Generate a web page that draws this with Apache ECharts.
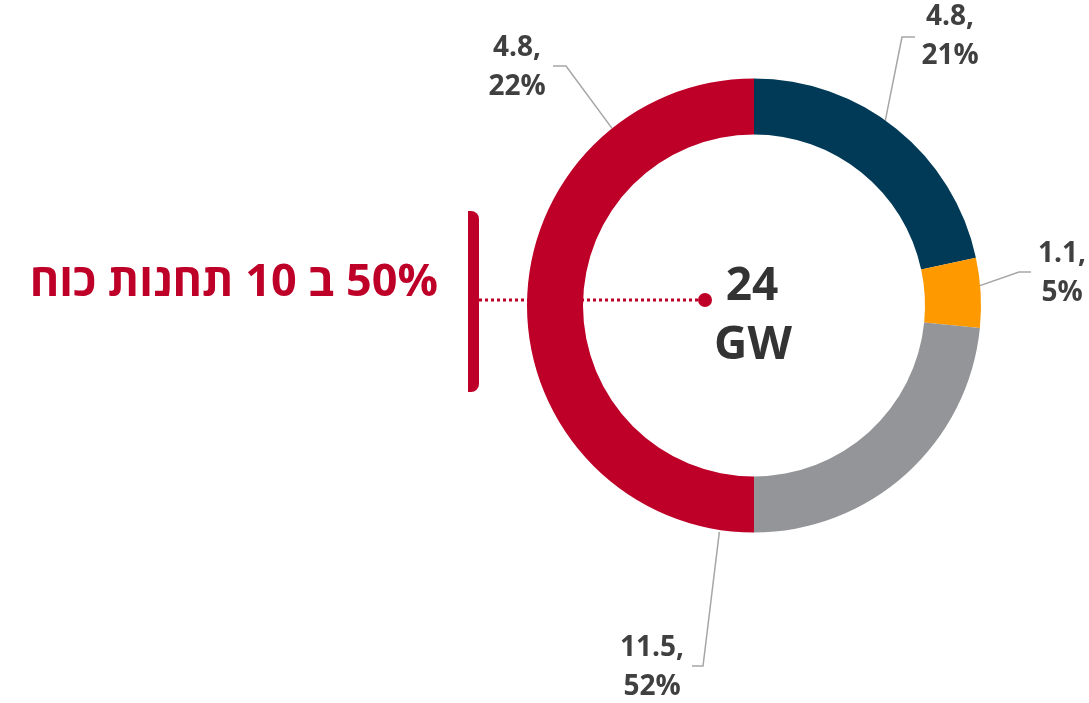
<!DOCTYPE html>
<html lang="he">
<head>
  <meta charset="UTF-8">
  <title>Capacity donut</title>
  <style>html,body{margin:0;padding:0;background:#fff;}</style>
</head>
<body>
  <div id="main" style="width:1089px;height:703px;"></div>
  <script src="https://cdn.jsdelivr.net/npm/echarts@6.0.0/dist/echarts.min.js"></script>
  <script type="text/javascript">
    // slices as drawn, clockwise from 12 o'clock
    var sliceNames = ['1', '2', '3', '4'];
    var sliceValues = [4.8, 1.1, 5.2, 11.1];
    var sliceLabels = ['4.8,\n21%', '1.1,\n5%', '4.8,\n22%', '11.5,\n52%'];
    var totalText = ['24', 'GW'];
    var sideText = '50% ב 10 תחנות כוח';

    var colors = ['#003A57', '#FF9900', '#939598', '#BE0029'];
    var red = '#BE0029';
    var cx = 754, cy = 305.5;

    // where each label sits (anchor = [angle from top, radius])
    var spots = [
      { anchor: [39, 199], bend: [902, 37], end: [915, 37], text: [950, 37] },
      { anchor: [87, 199], bend: [1019, 272], end: [1031, 272], text: [1062, 274] },
      { anchor: [321.3, 227], bend: [566, 66], end: [553, 66], text: [517, 68] },
      { anchor: [188.7, 229], bend: [703, 666], end: [692, 666], text: [652, 668] }
    ];

    var myChart = echarts.init(document.getElementById('main'));

    var pieData = sliceValues.map(function (v, i) {
      return { name: sliceNames[i], value: v, itemStyle: { color: colors[i] } };
    });

    var option = {
      backgroundColor: '#ffffff',
      animation: false,
      series: [{
        type: 'pie',
        center: [cx, cy],
        radius: [171, 227],
        startAngle: 90,
        clockwise: true,
        avoidLabelOverlap: false,
        silent: true,
        emphasis: { scale: false },
        data: pieData,
        label: {
          show: true,
          position: 'outside',
          formatter: function (p) { return sliceLabels[p.dataIndex]; },
          fontFamily: 'Open Sans',
          fontWeight: 'bold',
          fontSize: 28,
          lineHeight: 39,
          color: '#404040'
        },
        labelLine: {
          show: true,
          smooth: false,
          lineStyle: { color: '#A6A6A6', width: 1.5 }
        },
        labelLayout: function (params) {
          var s = spots[params.dataIndex];
          var a = s.anchor[0] * Math.PI / 180;
          var ax = cx + s.anchor[1] * Math.sin(a);
          var ay = cy - s.anchor[1] * Math.cos(a);
          return {
            x: s.text[0],
            y: s.text[1],
            align: 'center',
            verticalAlign: 'middle',
            labelLinePoints: [[ax, ay], s.bend, s.end]
          };
        }
      }],
      graphic: [
        {
          type: 'rect', z: 1,
          shape: { x: 468, y: 211, width: 11, height: 181, r: [0, 8, 8, 0] },
          style: { fill: red }
        },
        {
          type: 'line', z: 1,
          shape: { x1: 479, y1: 300, x2: 700, y2: 300 },
          style: { stroke: red, lineWidth: 3, lineDash: [3, 3] }
        },
        {
          type: 'circle', z: 10,
          shape: { cx: 705, cy: 300, r: 7 },
          style: { fill: red }
        },
        {
          type: 'text', z: 10, x: 438, y: 283,
          style: {
            text: '\u202B' + sideText + '\u202C',
            fontFamily: 'Open Sans', fontWeight: 'bold', fontSize: 45,
            fill: red, align: 'right', verticalAlign: 'middle'
          }
        },
        {
          type: 'text', z: 10, x: 752, y: 287,
          style: {
            text: totalText[0],
            fontFamily: 'Open Sans', fontWeight: 'bold', fontSize: 46,
            fill: '#333333', align: 'center', verticalAlign: 'middle'
          }
        },
        {
          type: 'text', z: 10, x: 753, y: 346,
          style: {
            text: totalText[1],
            fontFamily: 'Open Sans', fontWeight: 'bold', fontSize: 46,
            fill: '#333333', align: 'center', verticalAlign: 'middle'
          }
        }
      ]
    };

    myChart.setOption(option);
  </script>
</body>
</html>
